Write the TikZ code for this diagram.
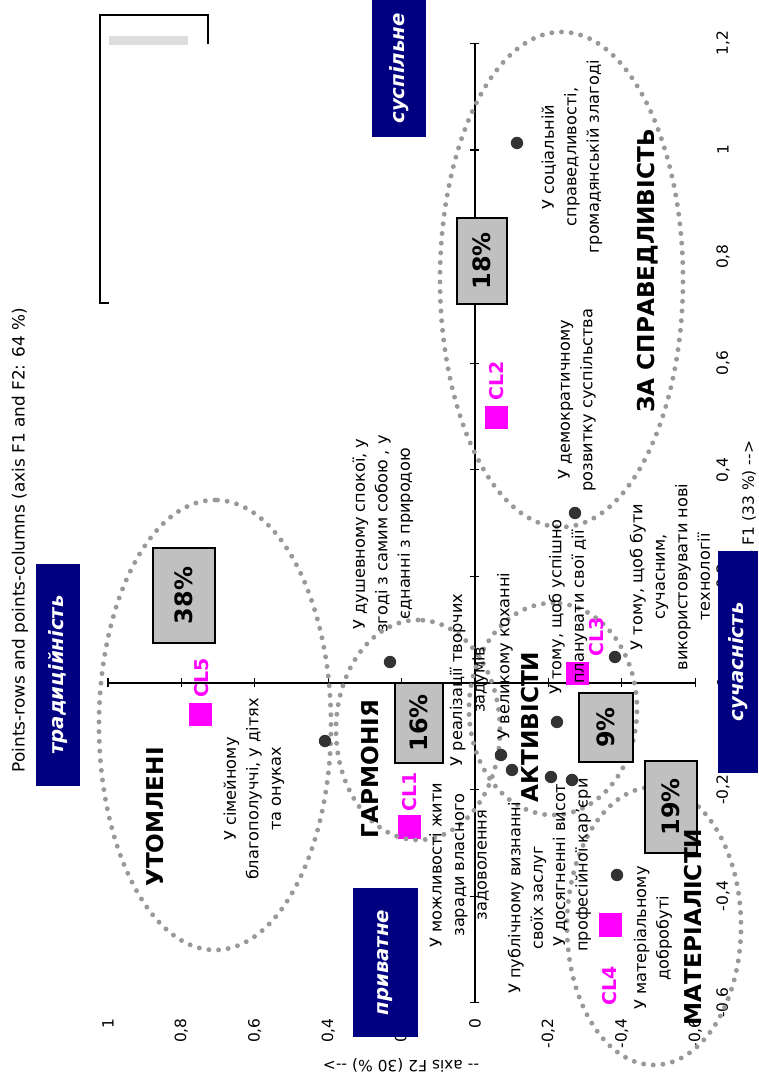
\documentclass[tikz,border=0pt]{standalone}
\usepackage{fontspec}
\setmainfont{DejaVu Sans}
\definecolor{poleblue}{HTML}{000080}
\definecolor{boxgray}{HTML}{C0C0C0}
\definecolor{ringgray}{HTML}{999999}
\definecolor{dotgray}{HTML}{333333}
\definecolor{clmag}{HTML}{FF00FF}
\definecolor{bargray}{HTML}{DDDDDD}
\tikzset{
  rowlbl/.style={font=\fontsize{11.5}{16}\selectfont, align=center, inner sep=0pt},
  clus/.style={font=\fontsize{16.5}{20}\selectfont\bfseries, inner sep=0pt},
  pct/.style={draw, line width=1.2pt, fill=boxgray, font=\fontsize{17}{20}\selectfont\bfseries, inner sep=0pt},
  pole/.style={fill=poleblue, text=white, font=\fontsize{14}{16}\selectfont\bfseries\itshape, inner sep=0pt},
  clsq/.style={fill=clmag, minimum size=0.575cm, inner sep=0pt},
  cllbl/.style={text=clmag, font=\fontsize{13.5}{16}\selectfont\bfseries, inner sep=0pt},
  rowpt/.style={circle, fill=dotgray, minimum size=0.31cm, inner sep=0pt},
  ring/.style={draw=ringgray, line width=3.5pt, line cap=round, dash pattern=on 0pt off 6.9pt},
  ticklbl/.style={font=\fontsize{11}{13}\selectfont, inner sep=0pt}
}
\begin{document}
\begin{tikzpicture}
\begin{scope}[rotate=90, transform shape, x=0.025cm, y=0.025cm]
\path[use as bounding box] (0,0) rectangle (1079,758);
% axes F1 / F2
\coordinate (o) at (396,283);
\draw[line width=0.8pt] (76,283) -- (1036,283);
\draw[line width=0.8pt] (396,63) -- (396,650);
\foreach \v/\t in {-0.6/{-0,6},-0.4/{-0,4},-0.2/{-0,2},0/0,0.2/{0,2},0.4/{0,4},0.6/{0,6},0.8/{0,8},1/1,1.2/{1,2}} {
  \draw[line width=0.8pt] ({396+533*\v},278.5) -- ({396+533*\v},287.5);
  \node[ticklbl] (xt\v) at ({396+533*\v},35) {\t};
}
\foreach \v/\t in {-0.6/{-0,6},-0.4/{-0,4},-0.2/{-0,2},0/0,0.2/{0,2},0.4/{0,4},0.6/{0,6},0.8/{0,8},1/1} {
  \draw[line width=0.8pt] (391.5,{283+367*\v}) -- (400.5,{283+367*\v});
  \node[ticklbl, anchor=east] (yt\v) at (61,{283+367*\v}) {\t};
}
\node[font=\fontsize{12}{14}\selectfont, inner sep=0pt] (title) at (539,738) {Points-rows and points-columns (axis F1 and F2: 64 \%)};
\node[ticklbl] (f1name) at (560,9) {-{}- axis F1 (33 \%) -{}->};
\node[ticklbl, rotate=90] (f2name) at (14,357) {-{}- axis F2 (30 \%) -{}->};

% class centres
\node[clsq] (cl5) at (364.5,557.5) {};
\node[clsq] (cl1) at (252,348.5) {};
\node[clsq] (cl2) at (661.5,261.5) {};
\node[clsq] (cl3) at (405.5,180.5) {};
\node[clsq] (cl4) at (154,147.5) {};

% clusters
\draw[ring] (354,543) ellipse [x radius=225, y radius=116];
\draw[ring] (799.5,196.5) ellipse [x radius=247.5, y radius=121.5];
\draw[ring] (349,340) ellipse [x radius=110, y radius=82];
\draw[ring] (370,205) ellipse [x radius=106, y radius=84];
\draw[ring] (153,104) ellipse [x radius=139, y radius=87];

% row points
\node[rowpt] (p1) at (936,241) {};
\node[rowpt] (p2) at (566,183) {};
\node[rowpt] (p3) at (417,368) {};
\node[rowpt] (p4) at (422,143) {};
\node[rowpt] (p5) at (338,433) {};
\node[rowpt] (p6) at (357,201) {};
\node[rowpt] (p7) at (324,257) {};
\node[rowpt] (p8) at (309,246) {};
\node[rowpt] (p9) at (302,207) {};
\node[rowpt] (p10) at (299,186) {};
\node[rowpt] (p11) at (204,141) {};

% shares
\node[pct, minimum width=2.375cm, minimum height=1.55cm] (s38) at (483.5,574) {38\%};
\node[pct, minimum width=2.15cm, minimum height=1.25cm] (s18) at (818,276) {18\%};
\node[pct, minimum width=2.0cm, minimum height=1.2cm] (s16) at (356,339) {16\%};
\node[pct, minimum width=1.725cm, minimum height=1.35cm] (s9) at (351.5,152) {9\%};
\node[pct, minimum width=2.3cm, minimum height=1.3cm] (s19) at (272,87) {19\%};

% row labels
\node[rowlbl] (t1) at (922,186) {У соціальній\\справедливості,\\громадянській злагоді};
\node[rowlbl] (t2) at (679,181) {У демократичному\\розвитку суспільства};
\node[rowlbl] (t3) at (545,375) {У душевному спокої, у\\згоді з самим собою , у\\єднанні з природою};
\node[rowlbl] (t4) at (502,88) {У тому, щоб бути\\сучасним,\\використовувати нові\\технології};
\node[rowlbl] (t5) at (472,190) {У тому, щоб успішно\\планувати свої дії};
\node[rowlbl] (t6) at (290,504) {У сімейному\\благополуччі, у дітях\\та онуках};
\node[rowlbl] (t7) at (399,289) {У реалізації творчих\\задумів};
\node[rowlbl] (t8) at (423,253) {У великому коханні};
\node[rowlbl] (t9) at (214,299) {У можливості жити\\заради власного\\задоволення};
\node[rowlbl] (t10) at (181,231) {У публічному визнанні\\своїх заслуг};
\node[rowlbl] (t11) at (214,186) {У досягненні висот\\професійної кар'єри};
\node[rowlbl] (t12) at (141,105) {У матеріальному\\добробуті};

% cluster names
\node[clus] (utoml) at (262,603) {УТОМЛЕНІ};
\node[clus] (harm) at (310,388) {ГАРМОНІЯ};
\node[clus] (activ) at (352,228) {АКТИВІСТИ};
\node[clus] (mater) at (152,65) {МАТЕРІАЛІСТИ};
\node[clus] (justice) at (808,110) {ЗА СПРАВЕДЛИВІСТЬ};

\node[cllbl] (cl5n) at (401.5,556) {CL5};
\node[cllbl] (cl1n) at (287,348.5) {CL1};
\node[cllbl] (cl2n) at (698,261.5) {CL2};
\node[cllbl] (cl3n) at (442,161.5) {CL3};
\node[cllbl] (cl4n) at (93,148.5) {CL4};

% poles
\node[pole, minimum width=5.55cm, minimum height=1.1cm] (trad) at (404,700) {традиційність};
\node[pole, minimum width=3.425cm, minimum height=1.35cm] (common) at (1010.5,359) {суспільне};
\node[pole, minimum width=3.725cm, minimum height=1.625cm] (priv) at (116.5,372.5) {приватне};
\node[pole, minimum width=5.55cm, minimum height=1.0cm] (modern) at (417,20) {сучасність};

% legend remains
\fill[bargray] (1034,570) rectangle (1043,649);
\draw[line width=1.2pt] (1035,550) -- (1064,550) -- (1064,658) -- (776,658) -- (776,649);
\end{scope}
\end{tikzpicture}
\end{document}
